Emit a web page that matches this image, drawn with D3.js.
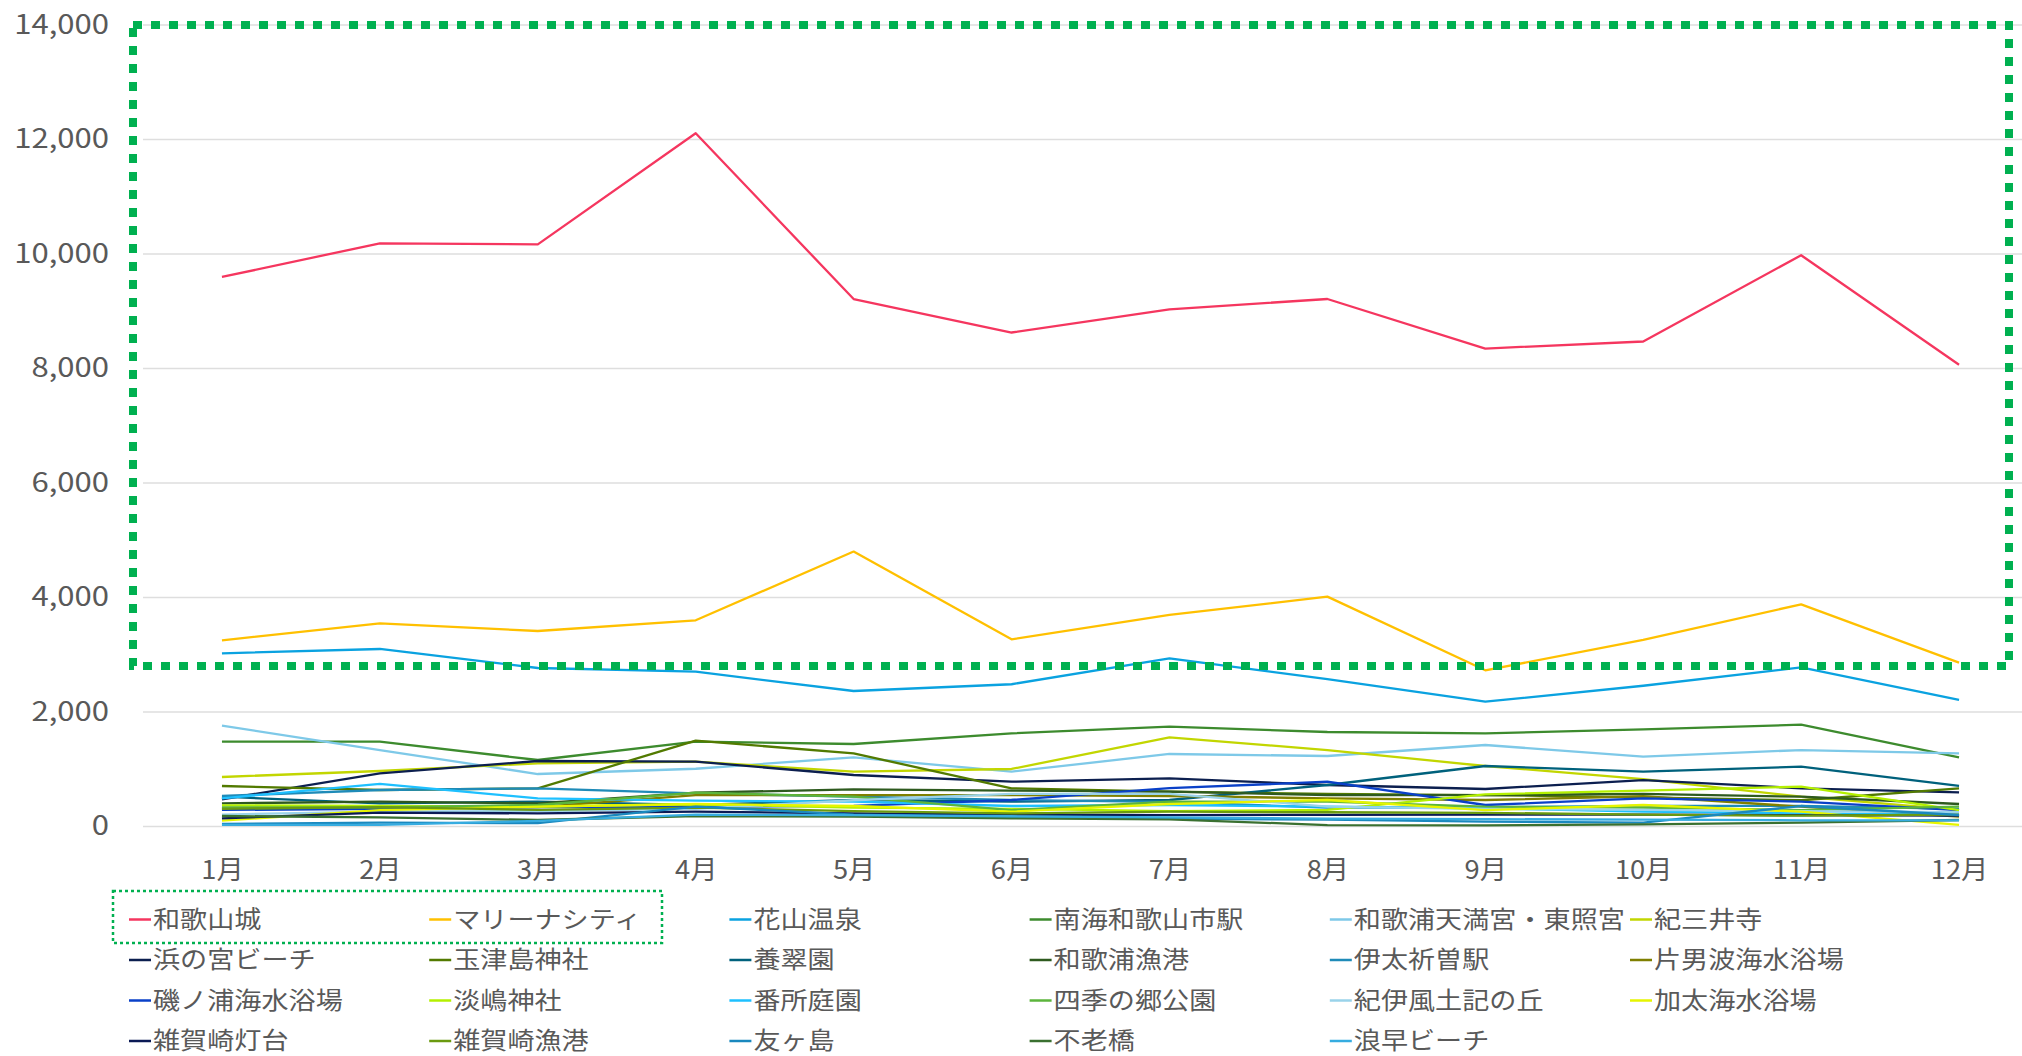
<!DOCTYPE html>
<html lang="ja">
<head>
<meta charset="UTF-8">
<title>和歌山市 観光地 月別</title>
<script src="https://d3js.org/d3.v7.min.js"></script>
<style>
  body { margin: 0; background: #fff; }
  svg { display: block; }
  text { font-family: "Noto Sans CJK JP", "Noto Sans", sans-serif; fill: #595959; }
  .grid line { stroke: #dedede; stroke-width: 1.5; }
  .grid path { display: none; }
</style>
</head>
<body>
<svg id="chart" width="2022" height="1056"></svg>
<script>
// months on the x axis
const months = ["1月","2月","3月","4月","5月","6月","7月","8月","9月","10月","11月","12月"];

// series in legend order
const names = [
  "和歌山城","マリーナシティ","花山温泉","南海和歌山市駅","和歌浦天満宮・東照宮","紀三井寺",
  "浜の宮ビーチ","玉津島神社","養翠園","和歌浦漁港","伊太祈曽駅","片男波海水浴場",
  "磯ノ浦海水浴場","淡嶋神社","番所庭園","四季の郷公園","紀伊風土記の丘","加太海水浴場",
  "雑賀崎灯台","雑賀崎漁港","友ヶ島","不老橋","浪早ビーチ"
];

const colors = [
  "#f5365f","#ffc000","#0aa2e0","#3d8b2e","#7ec9e8","#c2d600",
  "#0c1f4f","#527a00","#00617c","#2e5a1f","#1f8bb8","#7f7f00",
  "#0a40c8","#b4f000","#1ec0ff","#5cb53c","#9ad3ea","#e6f500",
  "#0b1a55","#6a9a10","#1a88be","#3a7030","#36ace0"
];

// monthly values, one row per series (same order as names)
const values = [
  [9590,10178,10160,12100,9205,8620,9025,9205,8340,8463,9970,8057],
  [3243,3541,3406,3593,4794,3260,3686,4006,2720,3250,3872,2853],
  [3016,3092,2760,2695,2358,2476,2929,2566,2171,2450,2770,2201],
  [1473,1473,1153,1473,1432,1618,1735,1642,1618,1688,1770,1199],
  [1752,1327,908,1000,1199,949,1258,1223,1415,1211,1327,1269],
  [856,961,1095,1124,949,996,1549,1327,1048,820,512,280],
  [466,920,1135,1124,891,774,833,716,646,803,658,588],
  [699,629,658,1490,1269,658,600,560,540,500,450,658],
  [512,396,425,367,454,425,454,716,1048,949,1036,699],
  [396,425,396,582,640,617,600,541,541,560,512,384],
  [524,629,658,571,512,454,420,320,330,350,350,300],
  [308,320,330,541,541,541,524,483,454,520,338,163],
  [280,300,330,340,350,454,660,774,367,483,425,279],
  [360,350,340,380,320,300,260,280,553,617,687,279],
  [483,734,483,442,425,349,367,338,308,250,221,192],
  [326,326,367,582,512,279,425,425,338,320,279,338],
  [200,250,260,300,450,560,560,340,300,280,260,240],
  [93,279,338,384,349,250,384,454,279,367,250,20],
  [134,233,221,250,220,200,190,195,200,200,190,180],
  [300,330,280,320,260,220,250,240,230,200,180,200],
  [35,58,50,340,200,150,130,110,76,60,349,192],
  [175,151,105,175,163,134,116,17,12,30,58,105],
  [20,20,90,200,190,170,150,130,120,110,100,100]
];

const yTicks = [0,2000,4000,6000,8000,10000,12000,14000];

const svg = d3.select("#chart");

const x = d3.scalePoint().domain(months).range([143, 2038]).padding(0.5);
const y = d3.scaleLinear().domain([0, 14000]).range([826, 24.5]);

// horizontal gridlines
svg.append("g")
  .attr("class", "grid")
  .attr("transform", "translate(143,0)")
  .call(d3.axisLeft(y).tickValues(yTicks).tickSize(-(2038 - 143)).tickFormat(""));

// y axis labels (the source picture is a bit stretched sideways)
svg.append("g")
  .attr("transform", "translate(109,0)")
  .call(d3.axisLeft(y).tickValues(yTicks).tickSize(0).tickFormat(d3.format(",")))
  .call(g => g.select(".domain").remove())
  .selectAll("text")
  .attr("x", 0)
  .attr("transform", "scale(1.15,1)")
  .style("font-size", "27px")
  .style("fill", "#595959")
  .attr("text-anchor", "end");

// x axis labels
svg.append("g")
  .attr("transform", "translate(0,826)")
  .call(d3.axisBottom(x).tickSize(0))
  .call(g => g.select(".domain").remove())
  .selectAll("text")
  .attr("y", 44)
  .attr("dy", "0.35em")
  .attr("transform", "scale(1.05,1)")
  .style("font-size", "26px")
  .style("fill", "#595959");

// lines
const line = d3.line()
  .x((d, i) => x(months[i]))
  .y(d => y(d));

svg.append("g")
  .selectAll("path")
  .data(values)
  .join("path")
  .attr("d", line)
  .attr("fill", "none")
  .attr("stroke", (d, i) => colors[i])
  .attr("stroke-width", 2.3)
  .attr("stroke-linejoin", "round");

// legend, 6 columns
const legend = svg.append("g");
const item = legend.selectAll("g")
  .data(names)
  .join("g")
  .attr("transform", (d, i) => "translate(" + (129 + (i % 6) * 300.2) + "," + (919.5 + Math.floor(i / 6) * 40.5) + ")");
item.append("line")
  .attr("x1", 0).attr("x2", 22)
  .attr("stroke", (d, i) => colors[i])
  .attr("stroke-width", 2.5);
item.append("text")
  .attr("transform", "translate(24,0) scale(1.13,1)")
  .attr("dy", "0.34em")
  .style("font-size", "24px")
  .text(d => d);

// green dotted highlight boxes
svg.append("rect")
  .attr("x", 133).attr("y", 25)
  .attr("width", 2009 - 133).attr("height", 666 - 25)
  .attr("fill", "none")
  .attr("stroke", "#00b050")
  .attr("stroke-width", 8)
  .attr("stroke-dasharray", "9 9");

svg.append("rect")
  .attr("x", 113).attr("y", 891)
  .attr("width", 662 - 113).attr("height", 943 - 891)
  .attr("fill", "none")
  .attr("stroke", "#00b050")
  .attr("stroke-width", 2.5)
  .attr("stroke-dasharray", "3 3");
</script>
</body>
</html>
